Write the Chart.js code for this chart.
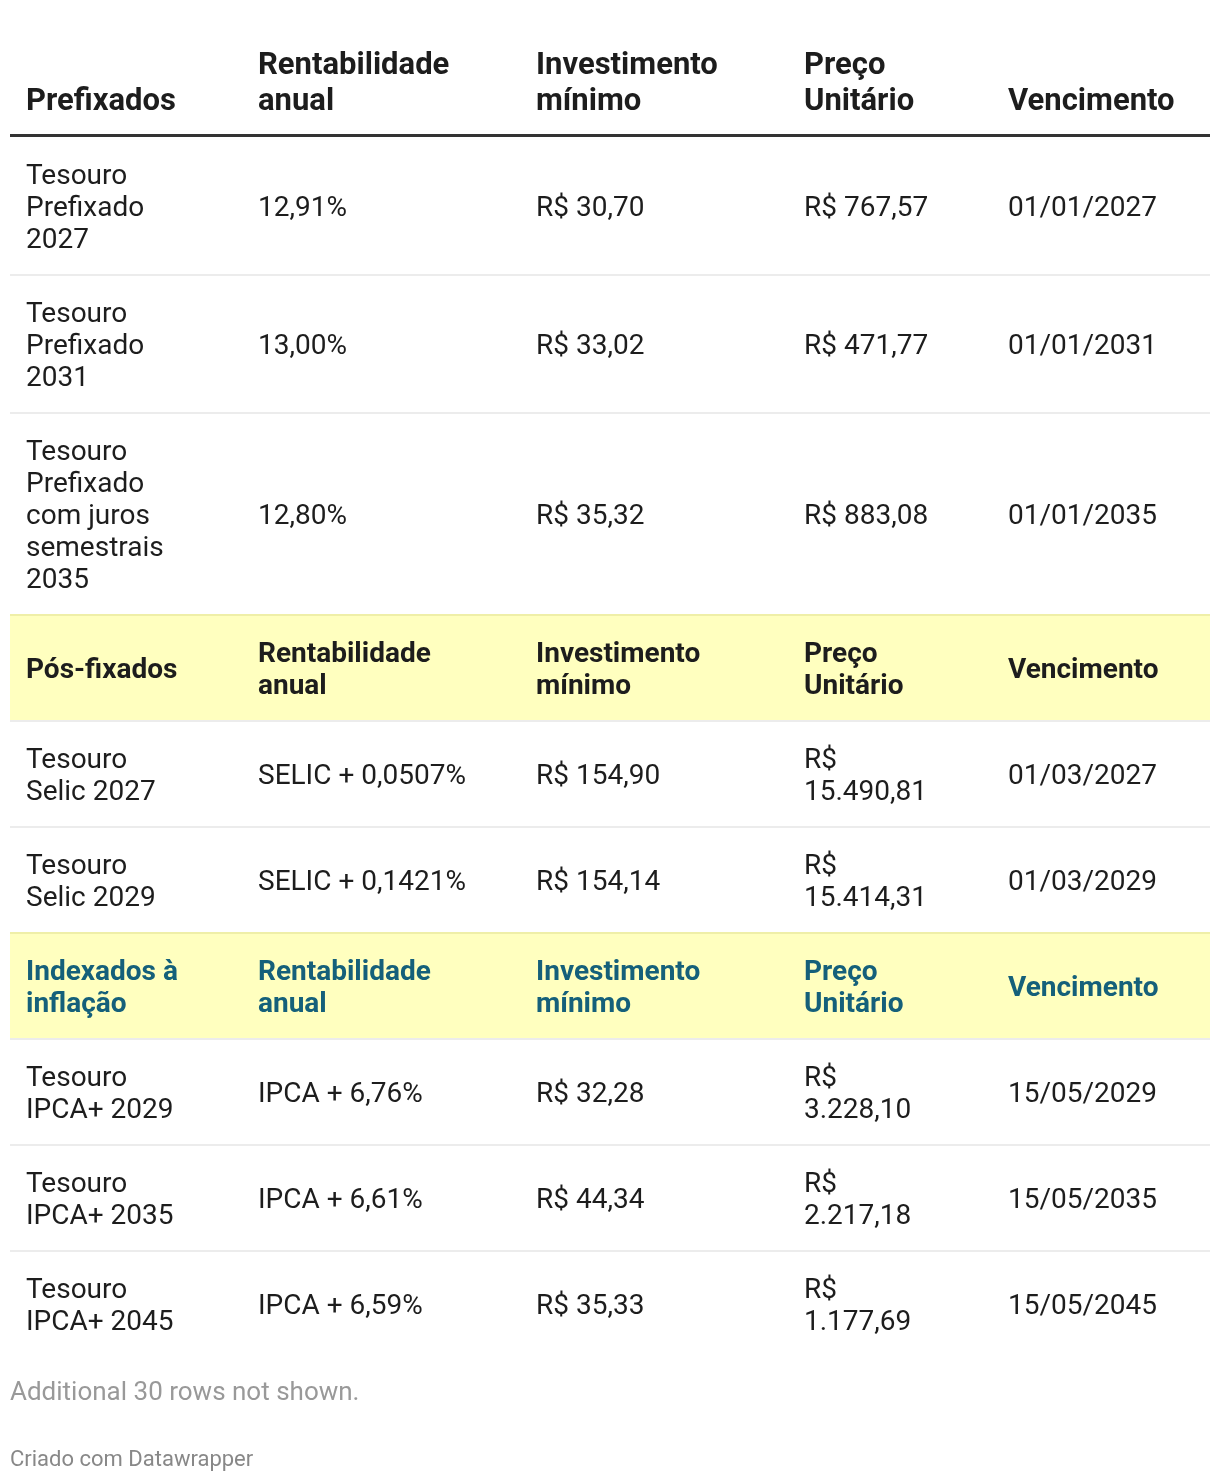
<!DOCTYPE html>
<html><head><meta charset="utf-8">
<script src="https://cdn.jsdelivr.net/npm/chart.js@4"></script>
<style>html,body{margin:0;padding:0;background:#fff}#wrap{width:1220px;height:1482px;position:relative}</style>
</head><body><div id="wrap"><canvas id="c" width="1220" height="1482"></canvas></div>
<script>
// ---- data ----
const columnHeaders = ["Rentabilidade\nanual", "Investimento\nmínimo", "Preço\nUnitário", "Vencimento"];
const groups = ["Prefixados", "Pós-fixados", "Indexados à\ninflação"];
const groupOf = [0, 0, 0, 1, 1, 2, 2, 2];
const titulos = ["Tesouro\nPrefixado\n2027", "Tesouro\nPrefixado\n2031", "Tesouro\nPrefixado\ncom juros\nsemestrais\n2035",
  "Tesouro\nSelic 2027", "Tesouro\nSelic 2029", "Tesouro\nIPCA+ 2029", "Tesouro\nIPCA+ 2035", "Tesouro\nIPCA+ 2045"];
const rentabilidade = ["12,91%", "13,00%", "12,80%", "SELIC + 0,0507%", "SELIC + 0,1421%", "IPCA + 6,76%", "IPCA + 6,61%", "IPCA + 6,59%"];
const investimento = ["R$ 30,70", "R$ 33,02", "R$ 35,32", "R$ 154,90", "R$ 154,14", "R$ 32,28", "R$ 44,34", "R$ 35,33"];
const preco = ["R$ 767,57", "R$ 471,77", "R$ 883,08", "R$\n15.490,81", "R$\n15.414,31", "R$\n3.228,10", "R$\n2.217,18", "R$\n1.177,69"];
const vencimento = ["01/01/2027", "01/01/2031", "01/01/2035", "01/03/2027", "01/03/2029", "15/05/2029", "15/05/2035", "15/05/2045"];
const noteText = "Additional 30 rows not shown.";
const creditText = "Criado com Datawrapper";

// ---- layout / style ----
const W = 1220, H = 1482;
const colX = [26, 258, 536, 804, 1008];
const tableLeft = 10, tableRight = 1210;
const LH = 32, PAD = 21, TOP_LH = 36;
const FONT = "Roboto, 'Noto Sans', sans-serif";
const TEXT = "#1d1d1d";
const groupStyle = [
  { bg: null, color: TEXT },
  { bg: "#ffffbf", color: "#1d1d1d" },
  { bg: "#ffffbf", color: "#15607a" }
];

function buildRows() {
  const rows = [];
  let lastGroup = -1;
  titulos.forEach((t, i) => {
    const g = groupOf[i];
    if (g !== lastGroup) {
      rows.push({ type: g === 0 ? "top" : "group", group: g, cells: [groups[g]].concat(columnHeaders) });
      lastGroup = g;
    }
    rows.push({ type: "body", cells: [t, rentabilidade[i], investimento[i], preco[i], vencimento[i]] });
  });
  let y = 30;
  rows.forEach((r, k) => {
    const n = Math.max(...r.cells.map(c => c.split("\n").length));
    r.lines = n;
    r.top = y;
    r.h = n * LH + 2 * PAD;
    if (r.type === "top") { r.h = n * LH + 2 * PAD - 2; y += r.h + 3; }
    else y += r.h;
    r.bottom = r.top + r.h;
    r.last = k === rows.length - 1;
  });
  return rows;
}

const tablePlugin = {
  id: "tablePlugin",
  afterDraw(chart) {
    const ctx = chart.ctx;
    const xs = chart.scales.x, ys = chart.scales.y;
    const px = v => xs.getPixelForValue(v);
    const py = v => ys.getPixelForValue(v);
    const rows = buildRows();
    ctx.save();
    rows.forEach(r => {
      const bold = r.type !== "body";
      const style = r.type === "body" ? { bg: null, color: TEXT } : groupStyle[r.group];
      if (style.bg) {
        ctx.fillStyle = style.bg;
        ctx.fillRect(px(tableLeft), py(r.top), px(tableRight) - px(tableLeft), py(r.bottom) - py(r.top));
        ctx.fillStyle = "#efefa8";
        ctx.fillRect(px(tableLeft), py(r.top) - 1, px(tableRight) - px(tableLeft), 2);
      }
      const size = r.type === "top" ? 31 : 28;
      ctx.font = (bold ? "700 " : "400 ") + size + "px " + FONT;
      ctx.fillStyle = style.color;
      ctx.textBaseline = "middle";
      ctx.textAlign = "left";
      r.cells.forEach((c, ci) => {
        const lines = c.split("\n");
        lines.forEach((ln, li) => {
          let cy;
          if (r.type === "top") {
            cy = r.bottom - 35 - (lines.length - 1 - li) * TOP_LH;
          } else {
            const mid = (r.top + r.bottom) / 2;
            cy = mid - (lines.length - 1) * LH / 2 + li * LH;
          }
          ctx.fillText(ln, px(colX[ci]), py(cy) + 3);
        });
      });
      if (r.type === "top") {
        ctx.fillStyle = "#333333";
        ctx.fillRect(px(tableLeft), py(r.bottom), px(tableRight) - px(tableLeft), 3);
      } else if (!r.last) {
        ctx.fillStyle = "#ececec";
        ctx.fillRect(px(tableLeft), py(r.bottom) - 1, px(tableRight) - px(tableLeft), 2);
      }
    });
    ctx.font = "400 26px " + FONT;
    ctx.fillStyle = "#999999";
    ctx.fillText(noteText, px(10), py(1393));
    ctx.font = "400 22px " + FONT;
    ctx.fillStyle = "#888888";
    ctx.fillText(creditText, px(10), py(1460));
    ctx.restore();
  }
};

new Chart(document.getElementById("c"), {
  type: "scatter",
  data: { datasets: [{ data: [] }] },
  options: {
    responsive: false,
    animation: false,
    devicePixelRatio: 1,
    layout: { padding: 0 },
    plugins: { legend: { display: false }, tooltip: { enabled: false } },
    scales: {
      x: { type: "linear", min: 0, max: W, display: false },
      y: { type: "linear", min: 0, max: H, reverse: true, display: false }
    }
  },
  plugins: [tablePlugin]
});
</script>
</body></html>
